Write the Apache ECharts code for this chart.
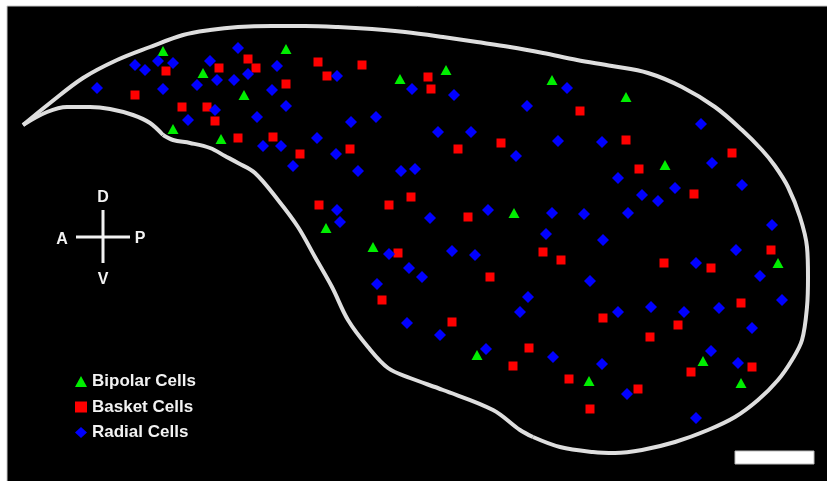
<!DOCTYPE html>
<html>
<head>
<meta charset="utf-8">
<script src="https://cdn.jsdelivr.net/npm/echarts@6/dist/echarts.min.js"></script>
<style>
  html, body { margin: 0; padding: 0; background: #fff; }
  #chart { width: 827px; height: 481px; }
</style>
</head>
<body>
<div id="chart"></div>
<script>
// ---- Data (positions, in image units) ----
const seriesNames = ['Bipolar Cells', 'Basket Cells', 'Radial Cells'];

const bipolarCells = [
  [163,51],[203,73],[173,129],[286,49],[244,95],[221,139],[400,79],[446,70],
  [552,80],[626,97],[665,165],[514,213],[326,228],[373,247],[778,263],
  [477,355],[589,381],[703,361],[741,383]
];

const basketCells = [
  [166,71],[135,95],[182,107],[207,107],[248,59],[219,68],[256,68],[286,84],
  [215,121],[238,138],[273,137],[300,154],[318,62],[327,76],[362,65],[350,149],
  [428,77],[431,89],[458,149],[501,143],[580,111],[626,140],[732,153],[639,169],
  [694,194],[319,205],[389,205],[411,197],[398,253],[382,300],[468,217],[543,252],
  [561,260],[490,277],[452,322],[603,318],[664,263],[711,268],[771,250],[741,303],
  [678,325],[650,337],[529,348],[513,366],[569,379],[590,409],[691,372],[752,367],
  [638,389]
];

const radialCells = [
  [135,65],[145,70],[158,61],[173,63],[97,88],[163,89],[197,85],[188,120],
  [210,61],[238,48],[277,66],[217,80],[234,80],[248,74],[272,90],[215,110],
  [286,106],[257,117],[263,146],[281,146],[293,166],[317,138],[336,154],[351,122],
  [376,117],[337,76],[412,89],[454,95],[567,88],[527,106],[438,132],[471,132],
  [516,156],[558,141],[602,142],[701,124],[712,163],[358,171],[401,171],[415,169],
  [337,210],[340,222],[389,254],[409,268],[377,284],[407,323],[618,178],[430,218],
  [488,210],[552,213],[584,214],[546,234],[603,240],[452,251],[475,255],[422,277],
  [590,281],[528,297],[520,312],[618,312],[675,188],[742,185],[642,195],[658,201],
  [628,213],[772,225],[736,250],[696,263],[760,276],[782,300],[719,308],[651,307],
  [684,312],[440,335],[486,349],[553,357],[602,364],[752,328],[711,351],[738,363],
  [627,394],[696,418]
];

// Outline of the region (three smooth segments joined at the sharp corners)
const outlineOuter = [
  [23,125],[50,103],[83,78],[117,60],[150,47],[183,35],[210,30],[238,27],[272,26],
  [305,26],[338,27],[372,29],[405,32],[443,37],[477,42],[510,47],[543,53],[577,60],
  [612,66],[648,73],[682,87],[715,107],[742,130],[762,150],[775,166],[788,187],
  [800,217],[807,247],[808,277],[807,307],[802,340],[792,360],[778,380],[758,400],
  [735,417],[708,430],[675,442],[642,450],[615,453],[593,452],[560,447],[533,437]
];
const outlineInner = [
  [533,437],[520,430],[493,410],[443,390],[410,378],[388,368],[368,347],[348,320],
  [332,287],[315,257],[298,227],[278,200],[255,173],[238,163],[225,156],[210,148],
  [190,143],[173,140],[163,135]
];
const outlineTail = [
  [163,135],[150,123],[133,115],[110,109],[90,107],[67,107],[47,112],[23,125]
];

const colors = { bipolar: '#00ee00', basket: '#ff0000', radial: '#0000ff' };

const chart = echarts.init(document.getElementById('chart'), null, { renderer: 'canvas' });

const outlineStyle = { color: '#dedede', width: 4 };
function outlineSeries(data) {
  return {
    type: 'line', data: data, smooth: 0.35, symbol: 'none', silent: true,
    lineStyle: outlineStyle, z: 1
  };
}

const FONT = '"Liberation Sans", Arial, sans-serif';

chart.setOption({
  animation: false,
  backgroundColor: '#ffffff',
  grid: { left: 0, right: 0, top: 0, bottom: 0 },
  xAxis: { type: 'value', min: 0, max: 827, show: false },
  yAxis: { type: 'value', min: 0, max: 481, inverse: true, show: false },
  legend: {
    data: seriesNames,
    orient: 'vertical',
    left: 75, top: 373, padding: 0,
    itemWidth: 12, itemHeight: 11, itemGap: 8.5,
    selectedMode: false,
    textStyle: { color: '#f2f2f2', fontSize: 17, fontWeight: 'bold', fontFamily: FONT, lineHeight: 17 }
  },
  graphic: [
    { type: 'rect', z: -10, shape: { x: 7, y: 6, width: 821, height: 476 },
      style: { fill: '#000000', stroke: '#c8c8c8', lineWidth: 1 } },
    // compass
    { type: 'line', shape: { x1: 103, y1: 210, x2: 103, y2: 263 }, style: { stroke: '#f2f2f2', lineWidth: 3 } },
    { type: 'line', shape: { x1: 76, y1: 237, x2: 130, y2: 237 }, style: { stroke: '#f2f2f2', lineWidth: 3 } },
    { type: 'text', x: 103, y: 198, style: { text: 'D', fill: '#f2f2f2', font: 'bold 16px ' + FONT, textAlign: 'center', textVerticalAlign: 'middle' } },
    { type: 'text', x: 62, y: 240, style: { text: 'A', fill: '#f2f2f2', font: 'bold 16px ' + FONT, textAlign: 'center', textVerticalAlign: 'middle' } },
    { type: 'text', x: 140, y: 239, style: { text: 'P', fill: '#f2f2f2', font: 'bold 16px ' + FONT, textAlign: 'center', textVerticalAlign: 'middle' } },
    { type: 'text', x: 103, y: 280, style: { text: 'V', fill: '#f2f2f2', font: 'bold 16px ' + FONT, textAlign: 'center', textVerticalAlign: 'middle' } },
    // scale bar
    { type: 'rect', shape: { x: 735, y: 451, width: 79, height: 13 }, style: { fill: '#ffffff', stroke: '#bbbbbb', lineWidth: 1 } }
  ],
  series: [
    outlineSeries(outlineOuter),
    outlineSeries(outlineInner),
    outlineSeries(outlineTail),
    { name: seriesNames[0], type: 'scatter', data: bipolarCells, symbol: 'triangle', symbolSize: [11, 10],
      itemStyle: { color: colors.bipolar, opacity: 1 }, z: 3 },
    { name: seriesNames[1], type: 'scatter', data: basketCells, symbol: 'rect', symbolSize: 9,
      itemStyle: { color: colors.basket, opacity: 1 }, z: 3 },
    { name: seriesNames[2], type: 'scatter', data: radialCells, symbol: 'diamond', symbolSize: 12,
      itemStyle: { color: colors.radial, opacity: 1 }, z: 3 }
  ]
});
</script>
</body>
</html>
